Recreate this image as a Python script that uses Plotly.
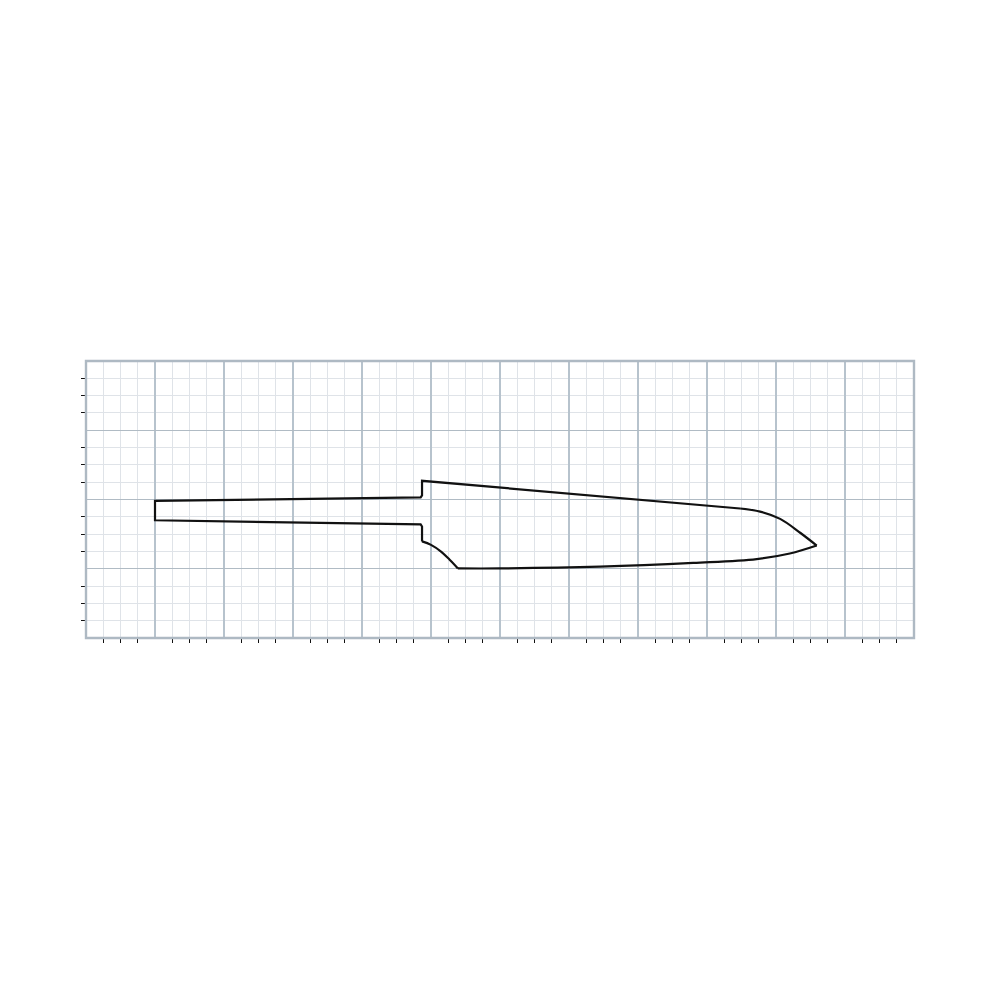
import plotly.graph_objects as go

# outline of the section, split where it goes from straight to curved
tang_x = [487, 487, 485, 100, 100, 485, 487, 487, 948]
tang_y = [139.5, 161, 164, 170, 198, 203, 206, 227, 187]
nose_top_x = [948, 977, 1006, 1035, 1059]
nose_top_y = [187, 182.5, 172, 152, 133.5]
belly_x = [1059, 1020, 972, 880, 745, 600, 539]
belly_y = [133.5, 122, 114, 108.5, 103, 100.5, 100.5]
notch_x = [539, 527, 515, 500, 487]
notch_y = [100.5, 113, 124.5, 134.5, 139.5]

x_range = [0, 1200]
y_range = [0, 400]
major_step = 100
minor_step = 25

fig = go.Figure()
fig.add_trace(go.Scatter(x=tang_x, y=tang_y, mode="lines",
                         line=dict(color="#111111", width=2.2), showlegend=False))
for xs, ys in [(nose_top_x, nose_top_y), (belly_x, belly_y), (notch_x, notch_y)]:
    fig.add_trace(go.Scatter(x=xs, y=ys, mode="lines",
                             line=dict(color="#111111", width=2.2, shape="spline", smoothing=1),
                             showlegend=False))


def axis_style(rng, major_color, major_width):
    return dict(
        range=rng,
        dtick=major_step,
        showticklabels=False,
        ticks="",
        showgrid=True,
        gridcolor=major_color,
        gridwidth=major_width,
        zeroline=False,
        showline=False,
        minor=dict(dtick=minor_step, showgrid=True, gridcolor="#dfe3e8", gridwidth=1.1,
                   ticks="outside", ticklen=4, tickwidth=1.3, tickcolor="#111111"),
    )


# the page body adds 8px on each side
fig.update_layout(
    width=984,
    height=984,
    margin=dict(l=78.3, r=77.7, t=353.4, b=353.6),
    paper_bgcolor="white",
    plot_bgcolor="white",
    xaxis=axis_style(x_range, "#b7c3cd", 1.5),
    yaxis=axis_style(y_range, "#b0bbc4", 1.2),
)

# frame sits centred on the plot edge, axis lines would land outside it
fig.add_shape(type="rect", xref="paper", yref="paper", x0=0, x1=1, y0=0, y1=1,
              line=dict(color="#aeb9c3", width=2.4), layer="above")

fig.write_html("out.html")
